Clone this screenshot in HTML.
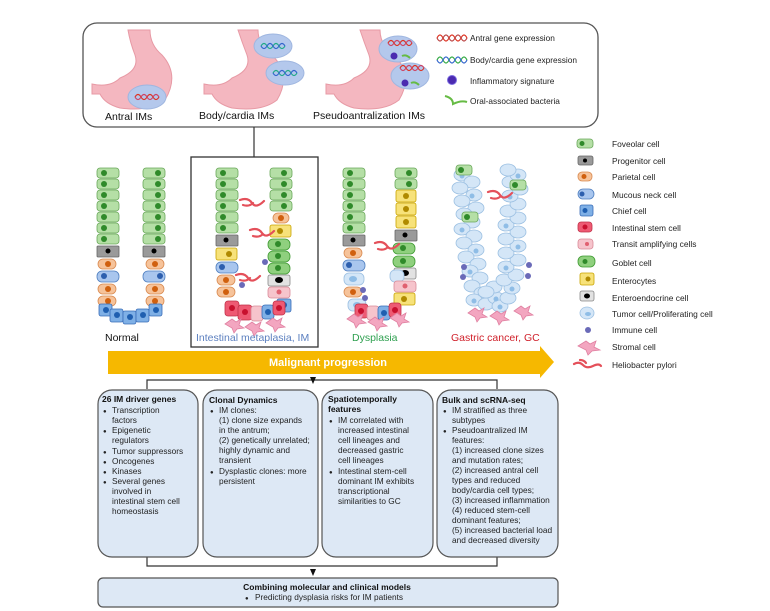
<!DOCTYPE html>
<html><head><meta charset="utf-8"><style>
html,body{margin:0;padding:0;background:#fff}
svg{display:block}
text{font-family:"Liberation Sans",Arial,sans-serif}
.fv{fill:#b5dfa6;stroke:#6aa85a;stroke-width:.8}
.fn{fill:#2f8a2a}
.pg{fill:#9a9a9a;stroke:#666;stroke-width:.8}
.pr{fill:#f6c39a;stroke:#d98a50;stroke-width:.8}
.prn{fill:#d0600e}
.mc{fill:#a9c6ee;stroke:#4f7fc0;stroke-width:.8}
.mcn{fill:#2d5fae}
.ch{fill:#7fb0e6;stroke:#3a6db8;stroke-width:.8}
.chn{fill:#1f5fb0}
.is{fill:#ee5a73;stroke:#c0324a;stroke-width:.8}
.isn{fill:#c8102e}
.ta{fill:#f6c4cc;stroke:#d98a98;stroke-width:.8}
.tan{fill:#e06070}
.gb{fill:#8fd07e;stroke:#3f9a32;stroke-width:.8}
.en{fill:#f7e27a;stroke:#c9a400;stroke-width:.8}
.enn{fill:#b08a00}
.ee{fill:#e2e2e2;stroke:#888;stroke-width:.8}
.tu{fill:#d4e6f7;stroke:#9cc0e2;stroke-width:.8}
.tun{fill:#8fbde6}
.im{fill:#6a6ab8}
.st{fill:#f3a6c0;stroke:#e07fa0;stroke-width:.8}
.hp{fill:none;stroke:#e4505a;stroke-width:2.2;stroke-linecap:round}
.bx{fill:#dde8f5;stroke:#555;stroke-width:1.2}
.t9{font-size:8.3px;fill:#222}
.b9{font-size:8.5px;font-weight:bold;fill:#111}
</style></head><body>
<svg width="770" height="611" viewBox="0 0 770 611" xmlns="http://www.w3.org/2000/svg">
<rect x="83" y="23" width="515" height="104" rx="14" fill="#fff" stroke="#555" stroke-width="1.3"/>
<g fill="#f4b7c0" stroke="#e79aa5" stroke-width="1">
<path d="M128 30 L150 30 Q150 45 162 55 Q180 75 165 100 Q150 112 120 108 Q105 104 100 94 L92 94 L92 84 Q110 88 120 78 Q140 70 135 55 Q130 42 128 30Z"/>
<path d="M238 30 L258 30 Q258 45 272 55 Q292 75 277 100 Q262 112 232 108 Q217 104 212 94 L204 94 L204 84 Q222 88 232 78 Q252 70 247 55 Q242 42 238 30Z"/>
<path d="M360 30 L380 30 Q380 45 394 55 Q414 75 399 100 Q384 112 354 108 Q339 104 334 94 L326 94 L326 84 Q344 88 354 78 Q374 70 369 55 Q364 42 360 30Z"/>
</g>
<g fill="#b4c8ec" stroke="#9fb6e0">
<ellipse cx="147" cy="97" rx="19" ry="12"/>
<ellipse cx="273" cy="46" rx="19" ry="12"/>
<ellipse cx="285" cy="73" rx="19" ry="12"/>
<ellipse cx="398" cy="49" rx="19" ry="13"/>
<ellipse cx="410" cy="76" rx="19" ry="13"/>
</g>
<g fill="none" stroke-width="1.2">
<path d="M135 97 q3-5 6 0 t6 0 t6 0 t6 0" stroke="#d32"/><path d="M135 97 q3 5 6 0 t6 0 t6 0 t6 0" stroke="#c46"/>
<path d="M261 46 q3-5 6 0 t6 0 t6 0 t6 0" stroke="#2a8"/><path d="M261 46 q3 5 6 0 t6 0 t6 0 t6 0" stroke="#36c"/>
<path d="M273 73 q3-5 6 0 t6 0 t6 0 t6 0" stroke="#2a8"/><path d="M273 73 q3 5 6 0 t6 0 t6 0 t6 0" stroke="#36c"/>
<path d="M388 43 q3-5 6 0 t6 0 t6 0 t6 0" stroke="#d32"/><path d="M388 43 q3 5 6 0 t6 0 t6 0 t6 0" stroke="#c46"/>
<path d="M400 68 q3-5 6 0 t6 0 t6 0 t6 0" stroke="#d32"/><path d="M400 68 q3 5 6 0 t6 0 t6 0 t6 0" stroke="#c46"/>
<path d="M437 38 q3-6 6 0 t6 0 t6 0 t6 0 t6 0" stroke="#d32"/><path d="M437 38 q3 6 6 0 t6 0 t6 0 t6 0 t6 0" stroke="#b44"/>
<path d="M437 60 q3-6 6 0 t6 0 t6 0 t6 0 t6 0" stroke="#3a4"/><path d="M437 60 q3 6 6 0 t6 0 t6 0 t6 0 t6 0" stroke="#36c"/>
<path d="M445 96 q8 2 8 8 q8-4 14-2" stroke="#6b4" stroke-width="2"/>
<path d="M402 56 q4-2 8 2" stroke="#6b4" stroke-width="2"/><path d="M411 83 q4-2 8 2" stroke="#6b4" stroke-width="2"/>
</g>
<circle cx="394" cy="56" r="3.5" fill="#4b2ab0"/><circle cx="405" cy="83" r="3.5" fill="#4b2ab0"/>
<circle cx="452" cy="80" r="4.5" fill="#4b2ab0" stroke="#7a6ae0"/>
<g fill="#222"><text x="470" y="41" font-size="8.3">Antral gene expression</text><text x="470" y="63" font-size="8.3">Body/cardia gene expression</text><text x="470" y="84" font-size="8.3">Inflammatory signature</text><text x="470" y="104" font-size="8.3">Oral-associated bacteria</text></g>
<g font-size="10.5" fill="#111"><text x="105" y="120">Antral IMs</text><text x="199" y="119">Body/cardia IMs</text><text x="313" y="119">Pseudoantralization IMs</text></g>
<line x1="254" y1="127" x2="254" y2="157" stroke="#333" stroke-width="1.2"/>
<rect x="191" y="157" width="127" height="190" fill="none" stroke="#333" stroke-width="1.3"/>

<!-- Normal crypt -->
<g>
<rect class="fv" x="97" y="168" width="22" height="10" rx="3"/><rect class="fv" x="97" y="179" width="22" height="10" rx="3"/><rect class="fv" x="97" y="190" width="22" height="10" rx="3"/><rect class="fv" x="97" y="201" width="22" height="10" rx="3"/><rect class="fv" x="97" y="212" width="22" height="10" rx="3"/><rect class="fv" x="97" y="223" width="22" height="10" rx="3"/><rect class="fv" x="97" y="234" width="22" height="10" rx="3"/>
<rect class="fv" x="143" y="168" width="22" height="10" rx="3"/><rect class="fv" x="143" y="179" width="22" height="10" rx="3"/><rect class="fv" x="143" y="190" width="22" height="10" rx="3"/><rect class="fv" x="143" y="201" width="22" height="10" rx="3"/><rect class="fv" x="143" y="212" width="22" height="10" rx="3"/><rect class="fv" x="143" y="223" width="22" height="10" rx="3"/><rect class="fv" x="143" y="234" width="22" height="10" rx="3"/>
<g class="fn"><circle cx="104" cy="173" r="3"/><circle cx="104" cy="184" r="3"/><circle cx="104" cy="195" r="3"/><circle cx="104" cy="206" r="3"/><circle cx="104" cy="217" r="3"/><circle cx="104" cy="228" r="3"/><circle cx="104" cy="239" r="3"/><circle cx="158" cy="173" r="3"/><circle cx="158" cy="184" r="3"/><circle cx="158" cy="195" r="3"/><circle cx="158" cy="206" r="3"/><circle cx="158" cy="217" r="3"/><circle cx="158" cy="228" r="3"/><circle cx="158" cy="239" r="3"/></g>
<rect class="pg" x="97" y="246" width="22" height="11" rx="1"/><rect class="pg" x="143" y="246" width="22" height="11" rx="1"/>
<circle cx="108" cy="251" r="2.5"/><circle cx="154" cy="251" r="2.5"/>
<rect class="pr" x="98" y="259" width="18" height="10" rx="5"/><rect class="mc" x="97" y="271" width="22" height="11" rx="5"/><rect class="pr" x="98" y="284" width="18" height="10" rx="5"/><rect class="pr" x="98" y="296" width="18" height="10" rx="5"/>
<rect class="pr" x="146" y="259" width="18" height="10" rx="5"/><rect class="mc" x="143" y="271" width="22" height="11" rx="5"/><rect class="pr" x="146" y="284" width="18" height="10" rx="5"/><rect class="pr" x="146" y="296" width="18" height="10" rx="5"/>
<g class="prn"><circle cx="108" cy="264" r="3"/><circle cx="108" cy="289" r="3"/><circle cx="108" cy="301" r="3"/><circle cx="155" cy="264" r="3"/><circle cx="155" cy="289" r="3"/><circle cx="155" cy="301" r="3"/></g>
<circle class="mcn" cx="104" cy="276" r="3"/><circle class="mcn" cx="160" cy="276" r="3"/>
<rect class="ch" x="99" y="304" width="13" height="12" rx="2"/><rect class="ch" x="110" y="309" width="13" height="13" rx="2"/><rect class="ch" x="123" y="311" width="13" height="13" rx="2"/><rect class="ch" x="136" y="309" width="13" height="13" rx="2"/><rect class="ch" x="149" y="304" width="13" height="12" rx="2"/>
<g class="chn"><circle cx="106" cy="310" r="3"/><circle cx="117" cy="315" r="3"/><circle cx="130" cy="317" r="3"/><circle cx="143" cy="315" r="3"/><circle cx="156" cy="310" r="3"/></g>
</g>

<!-- IM crypt -->
<g>
<rect class="fv" x="216" y="168" width="22" height="10" rx="3"/><rect class="fv" x="216" y="179" width="22" height="10" rx="3"/><rect class="fv" x="216" y="190" width="22" height="10" rx="3"/><rect class="fv" x="216" y="201" width="22" height="10" rx="3"/><rect class="fv" x="216" y="212" width="22" height="10" rx="3"/><rect class="fv" x="216" y="223" width="22" height="10" rx="3"/>
<rect class="fv" x="270" y="168" width="22" height="10" rx="3"/><rect class="fv" x="270" y="179" width="22" height="10" rx="3"/><rect class="fv" x="270" y="190" width="22" height="10" rx="3"/><rect class="fv" x="270" y="201" width="22" height="10" rx="3"/>
<g class="fn"><circle cx="223" cy="173" r="3"/><circle cx="223" cy="184" r="3"/><circle cx="223" cy="195" r="3"/><circle cx="223" cy="206" r="3"/><circle cx="223" cy="217" r="3"/><circle cx="223" cy="228" r="3"/><circle cx="284" cy="173" r="3"/><circle cx="284" cy="184" r="3"/><circle cx="284" cy="195" r="3"/><circle cx="284" cy="206" r="3"/></g>
<rect class="pg" x="216" y="235" width="22" height="11" rx="1"/><circle cx="226" cy="240" r="2.5"/>
<rect class="en" x="216" y="248" width="21" height="12" rx="2"/><circle class="enn" cx="229" cy="254" r="3"/>
<rect class="mc" x="216" y="262" width="22" height="11" rx="5"/><circle class="mcn" cx="222" cy="267" r="3"/>
<rect class="pr" x="217" y="275" width="18" height="10" rx="5"/><rect class="pr" x="217" y="287" width="18" height="10" rx="5"/><circle class="prn" cx="226" cy="280" r="3"/><circle class="prn" cx="226" cy="292" r="3"/>
<rect class="pr" x="273" y="213" width="16" height="10" rx="5"/><circle class="prn" cx="281" cy="218" r="3"/>
<rect class="en" x="270" y="225" width="21" height="12" rx="2"/><circle class="enn" cx="280" cy="231" r="3"/>
<rect class="gb" x="268" y="239" width="22" height="11" rx="5"/><rect class="gb" x="268" y="251" width="22" height="11" rx="5"/><rect class="gb" x="268" y="263" width="22" height="11" rx="5"/>
<g class="fn"><circle cx="278" cy="244" r="3"/><circle cx="278" cy="256" r="3"/><circle cx="278" cy="268" r="3"/></g>
<rect class="ee" x="268" y="275" width="22" height="11" rx="2"/><ellipse cx="279" cy="280" rx="4" ry="3"/>
<rect class="ta" x="268" y="287" width="22" height="11" rx="3"/><circle class="tan" cx="279" cy="292" r="2.5"/>
<rect class="ch" x="277" y="299" width="14" height="13" rx="2"/><circle class="chn" cx="284" cy="305" r="3"/>
<rect class="is" x="225" y="301" width="14" height="15" rx="3"/><rect class="is" x="238" y="305" width="14" height="15" rx="3"/><rect class="ta" x="251" y="306" width="12" height="15" rx="3"/><rect class="ch" x="262" y="305" width="12" height="14" rx="3"/><rect class="is" x="273" y="301" width="12" height="14" rx="3"/>
<g class="isn"><circle cx="232" cy="308" r="3"/><circle cx="245" cy="312" r="3"/><circle cx="279" cy="308" r="3"/></g><circle class="chn" cx="268" cy="312" r="3"/>
<circle class="im" cx="242" cy="285" r="3"/><circle class="im" cx="265" cy="262" r="3"/>
<path class="st" d="M225 324 l7-5 l4 3 l5-3 l-2 6 l5 3 l-7 1 l-3 4 l-2-5z"/><path class="st" d="M245 327 l7-5 l4 3 l5-3 l-2 6 l5 3 l-7 1 l-3 4 l-2-5z"/><path class="st" d="M266 323 l7-5 l4 3 l5-3 l-2 6 l5 3 l-7 1 l-3 4 l-2-5z"/>
<path class="hp" d="M240 200 q8-3 12 3 t12-2 M243 205 q6 2 10-2"/><path class="hp" d="M250 230 q8-3 12 3 t12-2 M253 236 q6 2 10-2"/><path class="hp" d="M236 275 q8-3 12 3 t12-2 M240 280 q6 2 10-2"/>
</g>

<!-- Dysplasia -->
<g>
<rect class="fv" x="343" y="168" width="22" height="10" rx="3"/><rect class="fv" x="343" y="179" width="22" height="10" rx="3"/><rect class="fv" x="343" y="190" width="22" height="10" rx="3"/><rect class="fv" x="343" y="201" width="22" height="10" rx="3"/><rect class="fv" x="343" y="212" width="22" height="10" rx="3"/><rect class="fv" x="343" y="223" width="22" height="10" rx="3"/>
<rect class="fv" x="395" y="168" width="22" height="10" rx="3"/><rect class="fv" x="395" y="179" width="22" height="10" rx="3"/>
<g class="fn"><circle cx="350" cy="173" r="3"/><circle cx="350" cy="184" r="3"/><circle cx="350" cy="195" r="3"/><circle cx="350" cy="206" r="3"/><circle cx="350" cy="217" r="3"/><circle cx="350" cy="228" r="3"/><circle cx="409" cy="173" r="3"/><circle cx="409" cy="184" r="3"/></g>
<rect class="pg" x="343" y="235" width="22" height="11" rx="1"/><circle cx="353" cy="240" r="2.5"/>
<rect class="pr" x="344" y="248" width="18" height="10" rx="5"/><circle class="prn" cx="353" cy="253" r="3"/>
<rect class="mc" x="343" y="260" width="22" height="11" rx="5"/><circle class="mcn" cx="349" cy="265" r="3"/>
<rect class="tu" x="344" y="273" width="20" height="12" rx="5"/><ellipse class="tun" cx="353" cy="279" rx="4" ry="3"/>
<rect class="pr" x="344" y="287" width="18" height="10" rx="5"/><circle class="prn" cx="353" cy="292" r="3"/>
<rect class="tu" x="348" y="299" width="18" height="12" rx="5"/><ellipse class="tun" cx="357" cy="305" rx="4" ry="3"/>
<rect class="en" x="396" y="190" width="20" height="12" rx="2"/><rect class="en" x="396" y="203" width="20" height="12" rx="2"/><rect class="en" x="396" y="216" width="20" height="12" rx="2"/>
<g class="enn"><circle cx="406" cy="196" r="3"/><circle cx="406" cy="209" r="3"/><circle cx="406" cy="222" r="3"/></g>
<rect class="pg" x="395" y="230" width="22" height="11" rx="1"/><circle cx="405" cy="235" r="2.5"/>
<rect class="gb" x="393" y="243" width="22" height="11" rx="5"/><rect class="gb" x="393" y="256" width="22" height="11" rx="5"/><circle class="fn" cx="403" cy="248" r="3"/><circle class="fn" cx="403" cy="261" r="3"/>
<rect class="ee" x="394" y="268" width="22" height="11" rx="2"/><ellipse cx="405" cy="273" rx="4" ry="3"/>
<rect class="tu" x="390" y="270" width="14" height="12" rx="5"/>
<rect class="ta" x="394" y="281" width="22" height="11" rx="3"/><circle class="tan" cx="405" cy="286" r="2.5"/>
<rect class="en" x="394" y="293" width="21" height="12" rx="2"/><circle class="enn" cx="404" cy="299" r="3"/>
<rect class="is" x="355" y="304" width="13" height="14" rx="3"/><rect class="ta" x="367" y="306" width="12" height="14" rx="3"/><rect class="ch" x="378" y="306" width="12" height="14" rx="3"/><rect class="is" x="389" y="303" width="12" height="14" rx="3"/>
<circle class="isn" cx="361" cy="311" r="3"/><circle class="chn" cx="384" cy="313" r="3"/><circle class="isn" cx="395" cy="310" r="3"/>
<circle class="im" cx="363" cy="290" r="3"/><circle class="im" cx="365" cy="298" r="3"/>
<path class="st" d="M347 319 l7-5 l4 3 l5-3 l-2 6 l5 3 l-7 1 l-3 4 l-2-5z"/><path class="st" d="M368 322 l7-5 l4 3 l5-3 l-2 6 l5 3 l-7 1 l-3 4 l-2-5z"/><path class="st" d="M390 318 l7-5 l4 3 l5-3 l-2 6 l5 3 l-7 1 l-3 4 l-2-5z"/>
<path class="hp" d="M375 243 q8-3 12 3 t12-2 M378 249 q6 2 10-2"/>
</g>

<!-- GC -->
<g>
<g class="tu">
<ellipse cx="462" cy="175" rx="8" ry="6"/><ellipse cx="472" cy="182" rx="8" ry="6"/><ellipse cx="460" cy="188" rx="8" ry="6"/><ellipse cx="474" cy="195" rx="8" ry="6"/><ellipse cx="462" cy="201" rx="8" ry="6"/><ellipse cx="476" cy="208" rx="8" ry="6"/><ellipse cx="464" cy="214" rx="8" ry="6"/><ellipse cx="472" cy="222" rx="8" ry="6"/><ellipse cx="462" cy="229" rx="8" ry="6"/><ellipse cx="474" cy="236" rx="8" ry="6"/><ellipse cx="464" cy="243" rx="8" ry="6"/><ellipse cx="476" cy="250" rx="8" ry="6"/><ellipse cx="466" cy="257" rx="8" ry="6"/><ellipse cx="478" cy="264" rx="8" ry="6"/><ellipse cx="470" cy="271" rx="8" ry="6"/><ellipse cx="480" cy="278" rx="8" ry="6"/><ellipse cx="472" cy="286" rx="8" ry="6"/><ellipse cx="482" cy="293" rx="8" ry="6"/><ellipse cx="474" cy="300" rx="8" ry="6"/><ellipse cx="486" cy="304" rx="8" ry="6"/><ellipse cx="496" cy="298" rx="8" ry="6"/><ellipse cx="494" cy="287" rx="8" ry="6"/><ellipse cx="500" cy="306" rx="8" ry="6"/><ellipse cx="508" cy="298" rx="8" ry="6"/><ellipse cx="512" cy="288" rx="8" ry="6"/><ellipse cx="504" cy="280" rx="8" ry="6"/><ellipse cx="516" cy="275" rx="8" ry="6"/><ellipse cx="506" cy="267" rx="8" ry="6"/><ellipse cx="518" cy="260" rx="8" ry="6"/><ellipse cx="506" cy="253" rx="8" ry="6"/><ellipse cx="518" cy="246" rx="8" ry="6"/><ellipse cx="506" cy="239" rx="8" ry="6"/><ellipse cx="518" cy="232" rx="8" ry="6"/><ellipse cx="506" cy="225" rx="8" ry="6"/><ellipse cx="518" cy="218" rx="8" ry="6"/><ellipse cx="508" cy="211" rx="8" ry="6"/><ellipse cx="518" cy="204" rx="8" ry="6"/><ellipse cx="510" cy="196" rx="8" ry="6"/><ellipse cx="520" cy="189" rx="8" ry="6"/><ellipse cx="510" cy="182" rx="8" ry="6"/><ellipse cx="518" cy="175" rx="8" ry="6"/><ellipse cx="508" cy="170" rx="8" ry="6"/><ellipse cx="486" cy="292" rx="8" ry="6"/>
</g>
<g class="tun"><circle cx="462" cy="176" r="2.5"/><circle cx="472" cy="196" r="2.5"/><circle cx="464" cy="215" r="2.5"/><circle cx="462" cy="230" r="2.5"/><circle cx="476" cy="251" r="2.5"/><circle cx="470" cy="272" r="2.5"/><circle cx="474" cy="301" r="2.5"/><circle cx="496" cy="299" r="2.5"/><circle cx="512" cy="289" r="2.5"/><circle cx="506" cy="268" r="2.5"/><circle cx="518" cy="247" r="2.5"/><circle cx="506" cy="226" r="2.5"/><circle cx="510" cy="197" r="2.5"/><circle cx="518" cy="176" r="2.5"/><circle cx="500" cy="307" r="2.5"/></g>
<rect class="fv" x="456" y="165" width="16" height="10" rx="3"/><circle class="fn" cx="461" cy="170" r="3"/>
<rect class="fv" x="510" y="180" width="16" height="10" rx="3"/><circle class="fn" cx="515" cy="185" r="3"/>
<rect class="fv" x="462" y="212" width="16" height="10" rx="3"/><circle class="fn" cx="467" cy="217" r="3"/>
<g class="im"><circle cx="464" cy="267" r="3"/><circle cx="463" cy="277" r="3"/><circle cx="529" cy="265" r="3"/><circle cx="528" cy="276" r="3"/></g>
<path class="st" d="M468 313 l7-5 l4 3 l5-3 l-2 6 l5 3 l-7 1 l-3 4 l-2-5z"/><path class="st" d="M490 316 l7-5 l4 3 l5-3 l-2 6 l5 3 l-7 1 l-3 4 l-2-5z"/><path class="st" d="M514 311 l7-5 l4 3 l5-3 l-2 6 l5 3 l-7 1 l-3 4 l-2-5z"/>
<path class="hp" d="M488 192 q8-3 12 3 t12-2 M491 198 q6 2 10-2"/>
</g>

<g font-size="10.5"><text x="105" y="341" fill="#111">Normal</text><text x="196" y="341" fill="#5b7fbf">Intestinal metaplasia, IM</text><text x="352" y="341" fill="#2fa050">Dysplasia</text><text x="451" y="341" fill="#d0202a">Gastric cancer, GC</text></g>
<polygon points="108,351 540,351 540,346 554,362 540,378 540,374 108,374" fill="#f6b800"/>
<text x="328" y="366" text-anchor="middle" font-size="11" font-weight="bold" fill="#fff">Malignant progression</text>

<g stroke="#333" stroke-width="1.2" fill="none"><polyline points="147,389 147,380 497,380 497,389"/><polyline points="147,557 147,566 497,566 497,557"/></g>
<polygon points="310,377 316,377 313,384" fill="#111"/><polygon points="310,569 316,569 313,576" fill="#111"/>
<g>
<rect class="fv" x="577" y="139" width="16" height="9" rx="3"/><circle class="fn" cx="582" cy="143.5" r="2.5"/>
<rect class="pg" x="578" y="156" width="15" height="9" rx="2"/><circle cx="585" cy="160.5" r="2"/>
<rect class="pr" x="578" y="172" width="14" height="9" rx="4"/><circle class="prn" cx="584" cy="176.5" r="2.5"/>
<rect class="mc" x="578" y="189" width="16" height="10" rx="5"/><circle class="mcn" cx="582" cy="194" r="2.5"/>
<rect class="ch" x="580" y="205" width="13" height="11" rx="2"/><circle class="chn" cx="585" cy="210.5" r="2.5"/>
<rect class="is" x="578" y="222" width="14" height="10" rx="3"/><circle class="isn" cx="585" cy="227" r="2.5"/>
<rect class="ta" x="578" y="239" width="15" height="10" rx="3"/><circle class="tan" cx="587" cy="244" r="2"/>
<rect class="gb" x="578" y="256" width="17" height="11" rx="5"/><circle class="fn" cx="585" cy="261.5" r="2.5"/>
<rect class="en" x="580" y="273" width="14" height="12" rx="2"/><circle class="enn" cx="588" cy="279" r="2.5"/>
<rect class="ee" x="580" y="291" width="14" height="10" rx="2"/><ellipse cx="587" cy="296" rx="3" ry="2.5"/>
<ellipse class="tu" cx="587" cy="313" rx="7" ry="6"/><ellipse class="tun" cx="588" cy="314" rx="3" ry="2"/>
<circle class="im" cx="588" cy="330" r="3"/>
<path class="st" d="M578 346 l8-5 l4 3 l6-3 l-2 6 l6 3 l-8 1 l-4 4 l-2-5z"/>
<path class="hp" d="M574 364 q5-3 9 1 t10 1 t8 0 M580 360 q4 0 6 3" stroke-width="2"/>
<g fill="#222" font-size="8.4"><text x="612" y="147">Foveolar cell</text><text x="612" y="164">Progenitor cell</text><text x="612" y="180">Parietal cell</text><text x="612" y="198">Mucous neck cell</text><text x="612" y="214">Chief cell</text><text x="612" y="231">Intestinal stem cell</text><text x="612" y="247">Transit amplifying cells</text><text x="612" y="266">Goblet cell</text><text x="612" y="284">Enterocytes</text><text x="612" y="301">Enteroendocrine cell</text><text x="612" y="317">Tumor cell/Proliferating cell</text><text x="612" y="333">Immune cell</text><text x="612" y="350">Stromal cell</text><text x="612" y="368">Heliobacter pylori</text></g>
</g>

<rect class="bx" x="98" y="390" width="100" height="167" rx="14"/>
<rect class="bx" x="203" y="390" width="115" height="167" rx="14"/>
<rect class="bx" x="322" y="390" width="111" height="167" rx="14"/>
<rect class="bx" x="437" y="390" width="121" height="167" rx="14"/>
<rect class="bx" x="98" y="578" width="460" height="29" rx="5"/>
<g class="t9">
<text x="102" y="402" class="b9">26 IM driver genes</text>
<text x="103" y="413" font-size="6">●</text><text x="112" y="413">Transcription</text><text x="112" y="423">factors</text>
<text x="103" y="433" font-size="6">●</text><text x="112" y="433">Epigenetic</text><text x="112" y="443">regulators</text>
<text x="103" y="454" font-size="6">●</text><text x="112" y="454">Tumor suppressors</text>
<text x="103" y="464" font-size="6">●</text><text x="112" y="464">Oncogenes</text>
<text x="103" y="474" font-size="6">●</text><text x="112" y="474">Kinases</text>
<text x="103" y="484" font-size="6">●</text><text x="112" y="484">Several genes</text><text x="112" y="494">involved in</text><text x="112" y="504">intestinal stem cell</text><text x="112" y="514">homeostasis</text>

<text x="209" y="403" class="b9">Clonal Dynamics</text>
<text x="210" y="413" font-size="6">●</text><text x="219" y="413">IM clones:</text>
<text x="219" y="423">(1) clone size expands</text><text x="219" y="433">in the antrum;</text><text x="219" y="443">(2) genetically unrelated;</text><text x="219" y="453">highly dynamic and</text><text x="219" y="463">transient</text>
<text x="210" y="474" font-size="6">●</text><text x="219" y="474">Dysplastic clones: more</text><text x="219" y="484">persistent</text>

<text x="328" y="402" class="b9">Spatiotemporally</text><text x="328" y="412" class="b9">features</text>
<text x="329" y="423" font-size="6">●</text><text x="338" y="423">IM correlated with</text><text x="338" y="433">increased intestinal</text><text x="338" y="443">cell lineages and</text><text x="338" y="453">decreased gastric</text><text x="338" y="463">cell lineages</text>
<text x="329" y="474" font-size="6">●</text><text x="338" y="474">Intestinal stem-cell</text><text x="338" y="484">dominant IM exhibits</text><text x="338" y="494">transcriptional</text><text x="338" y="504">similarities to GC</text>

<text x="442" y="403" class="b9">Bulk and scRNA-seq</text>
<text x="443" y="413" font-size="6">●</text><text x="452" y="413">IM stratified as three</text><text x="452" y="423">subtypes</text>
<text x="443" y="433" font-size="6">●</text><text x="452" y="433">Pseudoantralized IM</text><text x="452" y="443">features:</text>
<text x="452" y="453">(1) increased clone sizes</text><text x="452" y="463">and mutation rates;</text><text x="452" y="473">(2) increased antral cell</text><text x="452" y="483">types and reduced</text><text x="452" y="493">body/cardia cell types;</text><text x="452" y="503">(3) increased inflammation</text><text x="452" y="513">(4) reduced stem-cell</text><text x="452" y="523">dominant features;</text><text x="452" y="533">(5) increased bacterial load</text><text x="452" y="543">and decreased diversity</text>

<text x="327" y="590" text-anchor="middle" class="b9">Combining molecular and clinical models</text>
<text x="245" y="600" font-size="6">●</text><text x="255" y="600">Predicting dysplasia risks for IM patients</text>
</g>
</svg>
</body></html>
